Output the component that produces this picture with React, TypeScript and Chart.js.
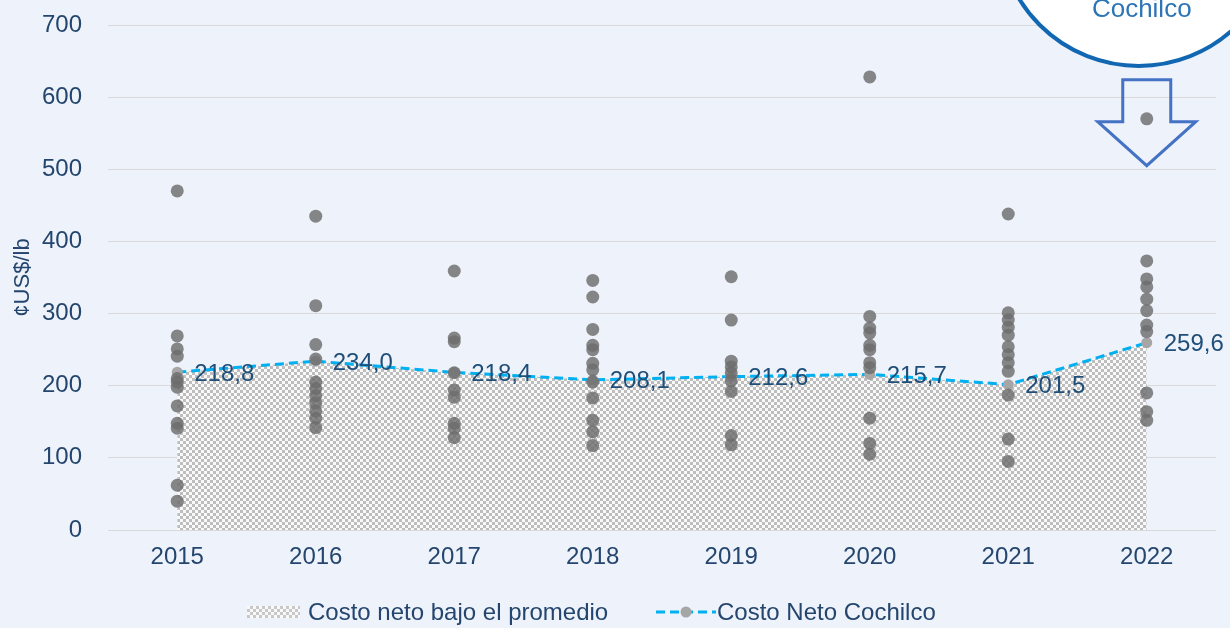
import React, { useEffect, useRef } from "react";
import { Chart, registerables } from "chart.js";

Chart.register(...registerables);

const years = ["2015", "2016", "2017", "2018", "2019", "2020", "2021", "2022"];
const avgCost = [218.8, 234.0, 218.4, 208.1, 212.6, 215.7, 201.5, 259.6];

const costs2015 = [470, 269, 251, 241, 210, 205, 198, 172, 148, 141, 62, 40];
const costs2016 = [435, 311, 257, 237, 205, 196, 186, 176, 165, 155, 142];
const costs2017 = [359, 266, 261, 218, 194, 184, 148, 141, 128];
const costs2018 = [346, 323, 278, 256, 250, 231, 222, 205, 183, 152, 136, 117];
const costs2019 = [351, 291, 234, 226, 218, 207, 192, 131, 118];
const costs2020 = [628, 296, 280, 273, 256, 250, 232, 225, 155, 120, 105];
const costs2021 = [438, 301, 291, 281, 270, 254, 243, 232, 220, 187, 126, 95];
const costs2022 = [570, 373, 348, 337, 320, 304, 284, 275, 190, 164, 152];

const costsByYear = [costs2015, costs2016, costs2017, costs2018, costs2019, costs2020, costs2021, costs2022];

const yTicks = [0, 100, 200, 300, 400, 500, 600, 700];

const FONT = "'Liberation Sans', Arial, sans-serif";
const TEXT = "#24466e";
const BG = "#eef2fa";

function makePattern(): CanvasPattern | string {
  const c = document.createElement("canvas");
  c.width = 6;
  c.height = 6;
  const g = c.getContext("2d");
  if (!g) return "#cccccc";
  g.fillStyle = "#f9f9f9";
  g.fillRect(0, 0, 6, 6);
  g.fillStyle = "#bdbdbd";
  g.fillRect(0, 0, 3, 3);
  g.fillRect(3, 3, 3, 3);
  const p = g.createPattern(c, "repeat");
  return p || "#cccccc";
}

const labelPlugin = {
  id: "avgLabels",
  afterDatasetsDraw(chart: any) {
    const meta = chart.getDatasetMeta(1);
    const ctx = chart.ctx;
    ctx.save();
    ctx.font = `24px ${FONT}`;
    ctx.fillStyle = "#1f4e79";
    ctx.textAlign = "left";
    ctx.textBaseline = "middle";
    meta.data.forEach((pt: any, i: number) => {
      const txt = avgCost[i].toFixed(1).replace(".", ",");
      ctx.fillText(txt, pt.x + 17, pt.y + 2);
    });
    ctx.restore();
  },
};

const annotationPlugin = {
  id: "cochilcoNote",
  afterDraw(chart: any) {
    const ctx = chart.ctx;
    const xs = chart.scales.x;
    const ys = chart.scales.y;
    const cx = xs.getPixelForValue(7);
    ctx.save();
    ctx.beginPath();
    ctx.arc(cx - 8, -74, 140, 0, Math.PI * 2);
    ctx.fillStyle = "#ffffff";
    ctx.fill();
    ctx.lineWidth = 4;
    ctx.strokeStyle = "#1167b1";
    ctx.stroke();
    ctx.font = `26px ${FONT}`;
    ctx.fillStyle = "#2e75b6";
    ctx.textAlign = "center";
    ctx.textBaseline = "alphabetic";
    ctx.fillText("Cochilco", cx - 5, 17);
    const top = ys.getPixelForValue(624);
    const mid = ys.getPixelForValue(566);
    const tip = ys.getPixelForValue(505);
    const sw = 24;
    const hw = 49;
    ctx.beginPath();
    ctx.moveTo(cx - sw, top);
    ctx.lineTo(cx + sw, top);
    ctx.lineTo(cx + sw, mid);
    ctx.lineTo(cx + hw, mid);
    ctx.lineTo(cx, tip);
    ctx.lineTo(cx - hw, mid);
    ctx.lineTo(cx - sw, mid);
    ctx.closePath();
    ctx.lineWidth = 3;
    ctx.strokeStyle = "#4472c4";
    ctx.lineJoin = "miter";
    ctx.stroke();
    ctx.restore();
  },
};

export default function App() {
  const ref = useRef<HTMLCanvasElement | null>(null);

  useEffect(() => {
    if (!ref.current) return;
    const scatterData: { x: string; y: number }[] = [];
    costsByYear.forEach((arr, i) => {
      arr.forEach((v) => scatterData.push({ x: years[i], y: v }));
    });
    const chart = new Chart(ref.current, {
      type: "line",
      data: {
        labels: years,
        datasets: [
          {
            type: "scatter",
            label: "Costos",
            data: scatterData as any,
            pointRadius: 6.5,
            pointBackgroundColor: "rgba(108,108,108,0.82)",
            pointBorderWidth: 0,
            borderWidth: 0,
            order: 0,
          } as any,
          {
            type: "line",
            label: "Costo Neto Cochilco",
            data: avgCost,
            borderColor: "#00b0f0",
            borderWidth: 3,
            borderDash: [9, 5],
            pointRadius: 5.5,
            pointBackgroundColor: "#a6a6a6",
            pointBorderWidth: 0,
            fill: false,
            tension: 0,
            order: 1,
          },
          {
            type: "line",
            label: "Costo neto bajo el promedio",
            data: avgCost,
            borderWidth: 0,
            pointRadius: 0,
            backgroundColor: makePattern() as any,
            fill: "origin",
            tension: 0,
            order: 2,
          },
        ],
      },
      options: {
        responsive: false,
        animation: false,
        devicePixelRatio: 1,
        layout: { padding: { top: 25, right: 14, left: 0, bottom: 0 } },
        plugins: {
          legend: { display: false },
          tooltip: { enabled: false },
        },
        scales: {
          x: {
            type: "category",
            offset: true,
            grid: { display: false, drawTicks: false },
            border: { display: false },
            ticks: { color: TEXT, font: { size: 24, family: FONT }, padding: 13 },
            afterFit: (s: any) => {
              s.height = 98;
              s.paddingLeft = 0;
              s.paddingRight = 0;
            },
          },
          y: {
            min: 0,
            max: 700,
            afterBuildTicks: (s: any) => {
              s.ticks = yTicks.map((v) => ({ value: v }));
            },
            ticks: { color: TEXT, font: { size: 24, family: FONT }, padding: 26 },
            grid: { color: "#d9d9d9", drawTicks: false, lineWidth: 1 },
            border: { display: false },
            title: {
              display: true,
              text: "¢US$/lb",
              color: TEXT,
              font: { size: 22, family: FONT },
              padding: { top: 10, bottom: 0 },
            },
            afterFit: (s: any) => {
              s.width = 108;
              s.paddingTop = 0;
              s.paddingBottom = 0;
            },
          },
        },
      } as any,
      plugins: [labelPlugin, annotationPlugin],
    });
    return () => chart.destroy();
  }, []);

  const legendText: React.CSSProperties = {
    position: "absolute",
    top: 597,
    fontFamily: FONT,
    fontSize: 24,
    color: TEXT,
    lineHeight: "30px",
    whiteSpace: "nowrap",
  };

  return (
    <div
      style={{
        position: "fixed",
        left: 0,
        top: 0,
        width: 1230,
        height: 628,
        background: BG,
        overflow: "hidden",
      }}
    >
      <canvas ref={ref} width={1230} height={628} style={{ position: "absolute", left: 0, top: 0, width: 1230, height: 628 }} />
      <div
        style={{
          position: "absolute",
          left: 247,
          top: 606,
          width: 53,
          height: 12,
          backgroundColor: "#f9f9f9",
          backgroundImage:
            "linear-gradient(45deg, #c8c8c8 25%, transparent 25%, transparent 75%, #c8c8c8 75%), linear-gradient(45deg, #c8c8c8 25%, transparent 25%, transparent 75%, #c8c8c8 75%)",
          backgroundSize: "6px 6px",
          backgroundPosition: "0 0, 3px 3px",
        }}
      />
      <span style={{ ...legendText, left: 308 }}>Costo neto bajo el promedio</span>
      <svg style={{ position: "absolute", left: 655, top: 602 }} width={62} height={20}>
        <line x1={1} y1={10} x2={61} y2={10} stroke="#00b0f0" strokeWidth={3} strokeDasharray="9 5" />
        <circle cx={31} cy={10} r={5.5} fill="#a6a6a6" />
      </svg>
      <span style={{ ...legendText, left: 717 }}>Costo Neto Cochilco</span>
    </div>
  );
}
